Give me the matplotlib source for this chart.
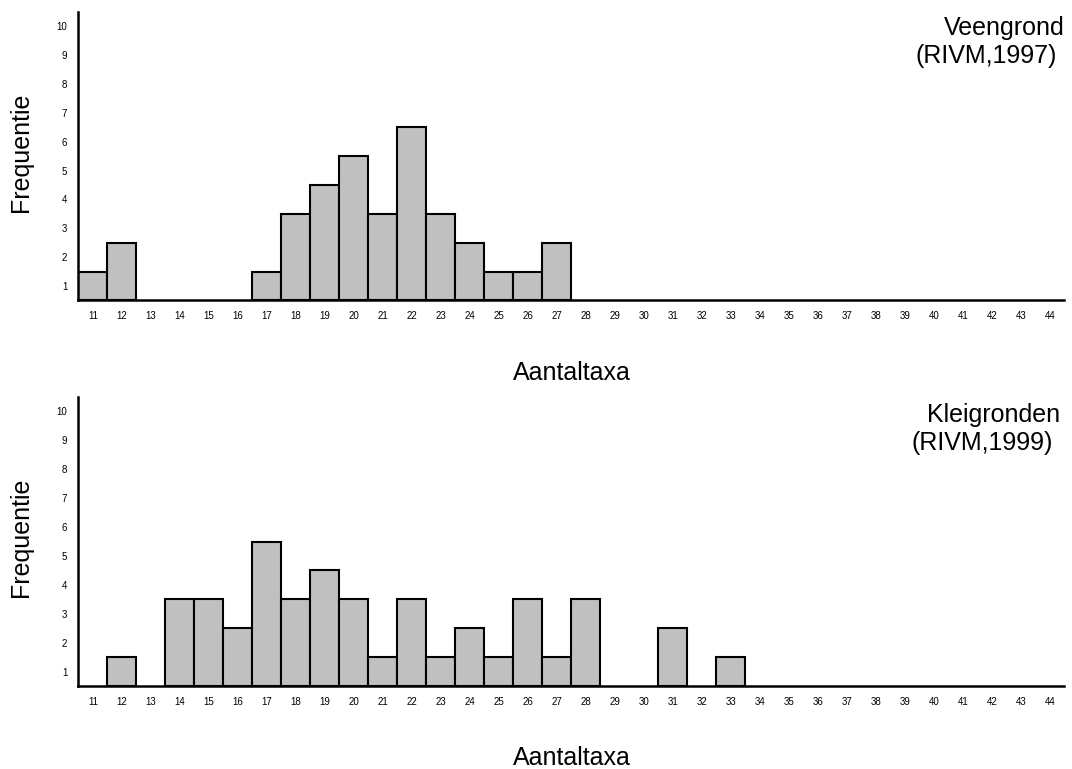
import matplotlib
matplotlib.use("Agg")
import matplotlib.pyplot as plt
import numpy as np

plt.rcParams['font.family'] = ['Liberation Sans', 'DejaVu Sans']

# Number of taxa per sample (x categories)
taxa = list(range(11, 45))

# Frequency counts per number of taxa
veen_counts = {11: 1, 12: 2, 17: 1, 18: 3, 19: 4, 20: 5, 21: 3, 22: 6,
               23: 3, 24: 2, 25: 1, 26: 1, 27: 2}
klei_counts = {12: 1, 14: 3, 15: 3, 16: 2, 17: 5, 18: 3, 19: 4, 20: 3,
               21: 1, 22: 3, 23: 1, 24: 2, 25: 1, 26: 3, 27: 1, 28: 3,
               31: 2, 33: 1}

veen_values = [veen_counts.get(t, 0) for t in taxa]
klei_values = [klei_counts.get(t, 0) for t in taxa]

y_labels = list(range(1, 11))

W, H = 1072, 769


def fx(px):
    return px / W


def fy(py):
    return 1 - py / H


panels = [
    dict(values=veen_values, lines=["Veengrond", "(RIVM,1997)"],
         rect=[0.0732, 0.6094, 0.9198, 0.375],
         title_pos=[(1065, 35), (1057, 63)], xlabel_y=380),
    dict(values=klei_values, lines=["Kleigronden", "(RIVM,1999)"],
         rect=[0.0732, 0.1079, 0.9198, 0.3758],
         title_pos=[(1060, 422), (1053, 450)], xlabel_y=765),
]

fig = plt.figure(figsize=(W / 100, H / 100), dpi=100)

for p in panels:
    values = p["values"]
    ax = fig.add_axes(p["rect"])
    nonzero = [(t, v) for t, v in zip(taxa, values) if v > 0]
    ax.bar([t for t, _ in nonzero], [v for _, v in nonzero], width=1.0,
           color="#c0c0c0", edgecolor="black", linewidth=1.5, zorder=2)
    ax.set_xlim(taxa[0] - 0.5, taxa[-1] + 0.5)
    ax.set_ylim(0, 10)
    ax.set_xticks(taxa)
    ax.set_xticklabels([str(t) for t in taxa], fontsize=7)
    ax.set_yticks([v - 0.5 for v in y_labels])
    ax.set_yticklabels([str(v) for v in y_labels], fontsize=7)
    ax.tick_params(axis="both", length=0)
    ax.tick_params(axis="x", pad=8)
    ax.tick_params(axis="y", pad=8)
    for side in ("top", "right"):
        ax.spines[side].set_visible(False)
    for side in ("left", "bottom"):
        ax.spines[side].set_linewidth(1.8)
        ax.spines[side].set_zorder(3)
    ax.set_ylabel("Frequentie", fontsize=18)
    ax.yaxis.set_label_coords(-0.0583, 0.515)
    ax.yaxis.label.set_va("center")

    fig.text(fx(572), fy(p["xlabel_y"]), "Aantaltaxa", fontsize=18,
             ha="center", va="baseline")
    for line, (x, y) in zip(p["lines"], p["title_pos"]):
        fig.text(fx(x), fy(y), line, fontsize=18, ha="right", va="baseline")

fig.savefig("out.png", dpi=100)
